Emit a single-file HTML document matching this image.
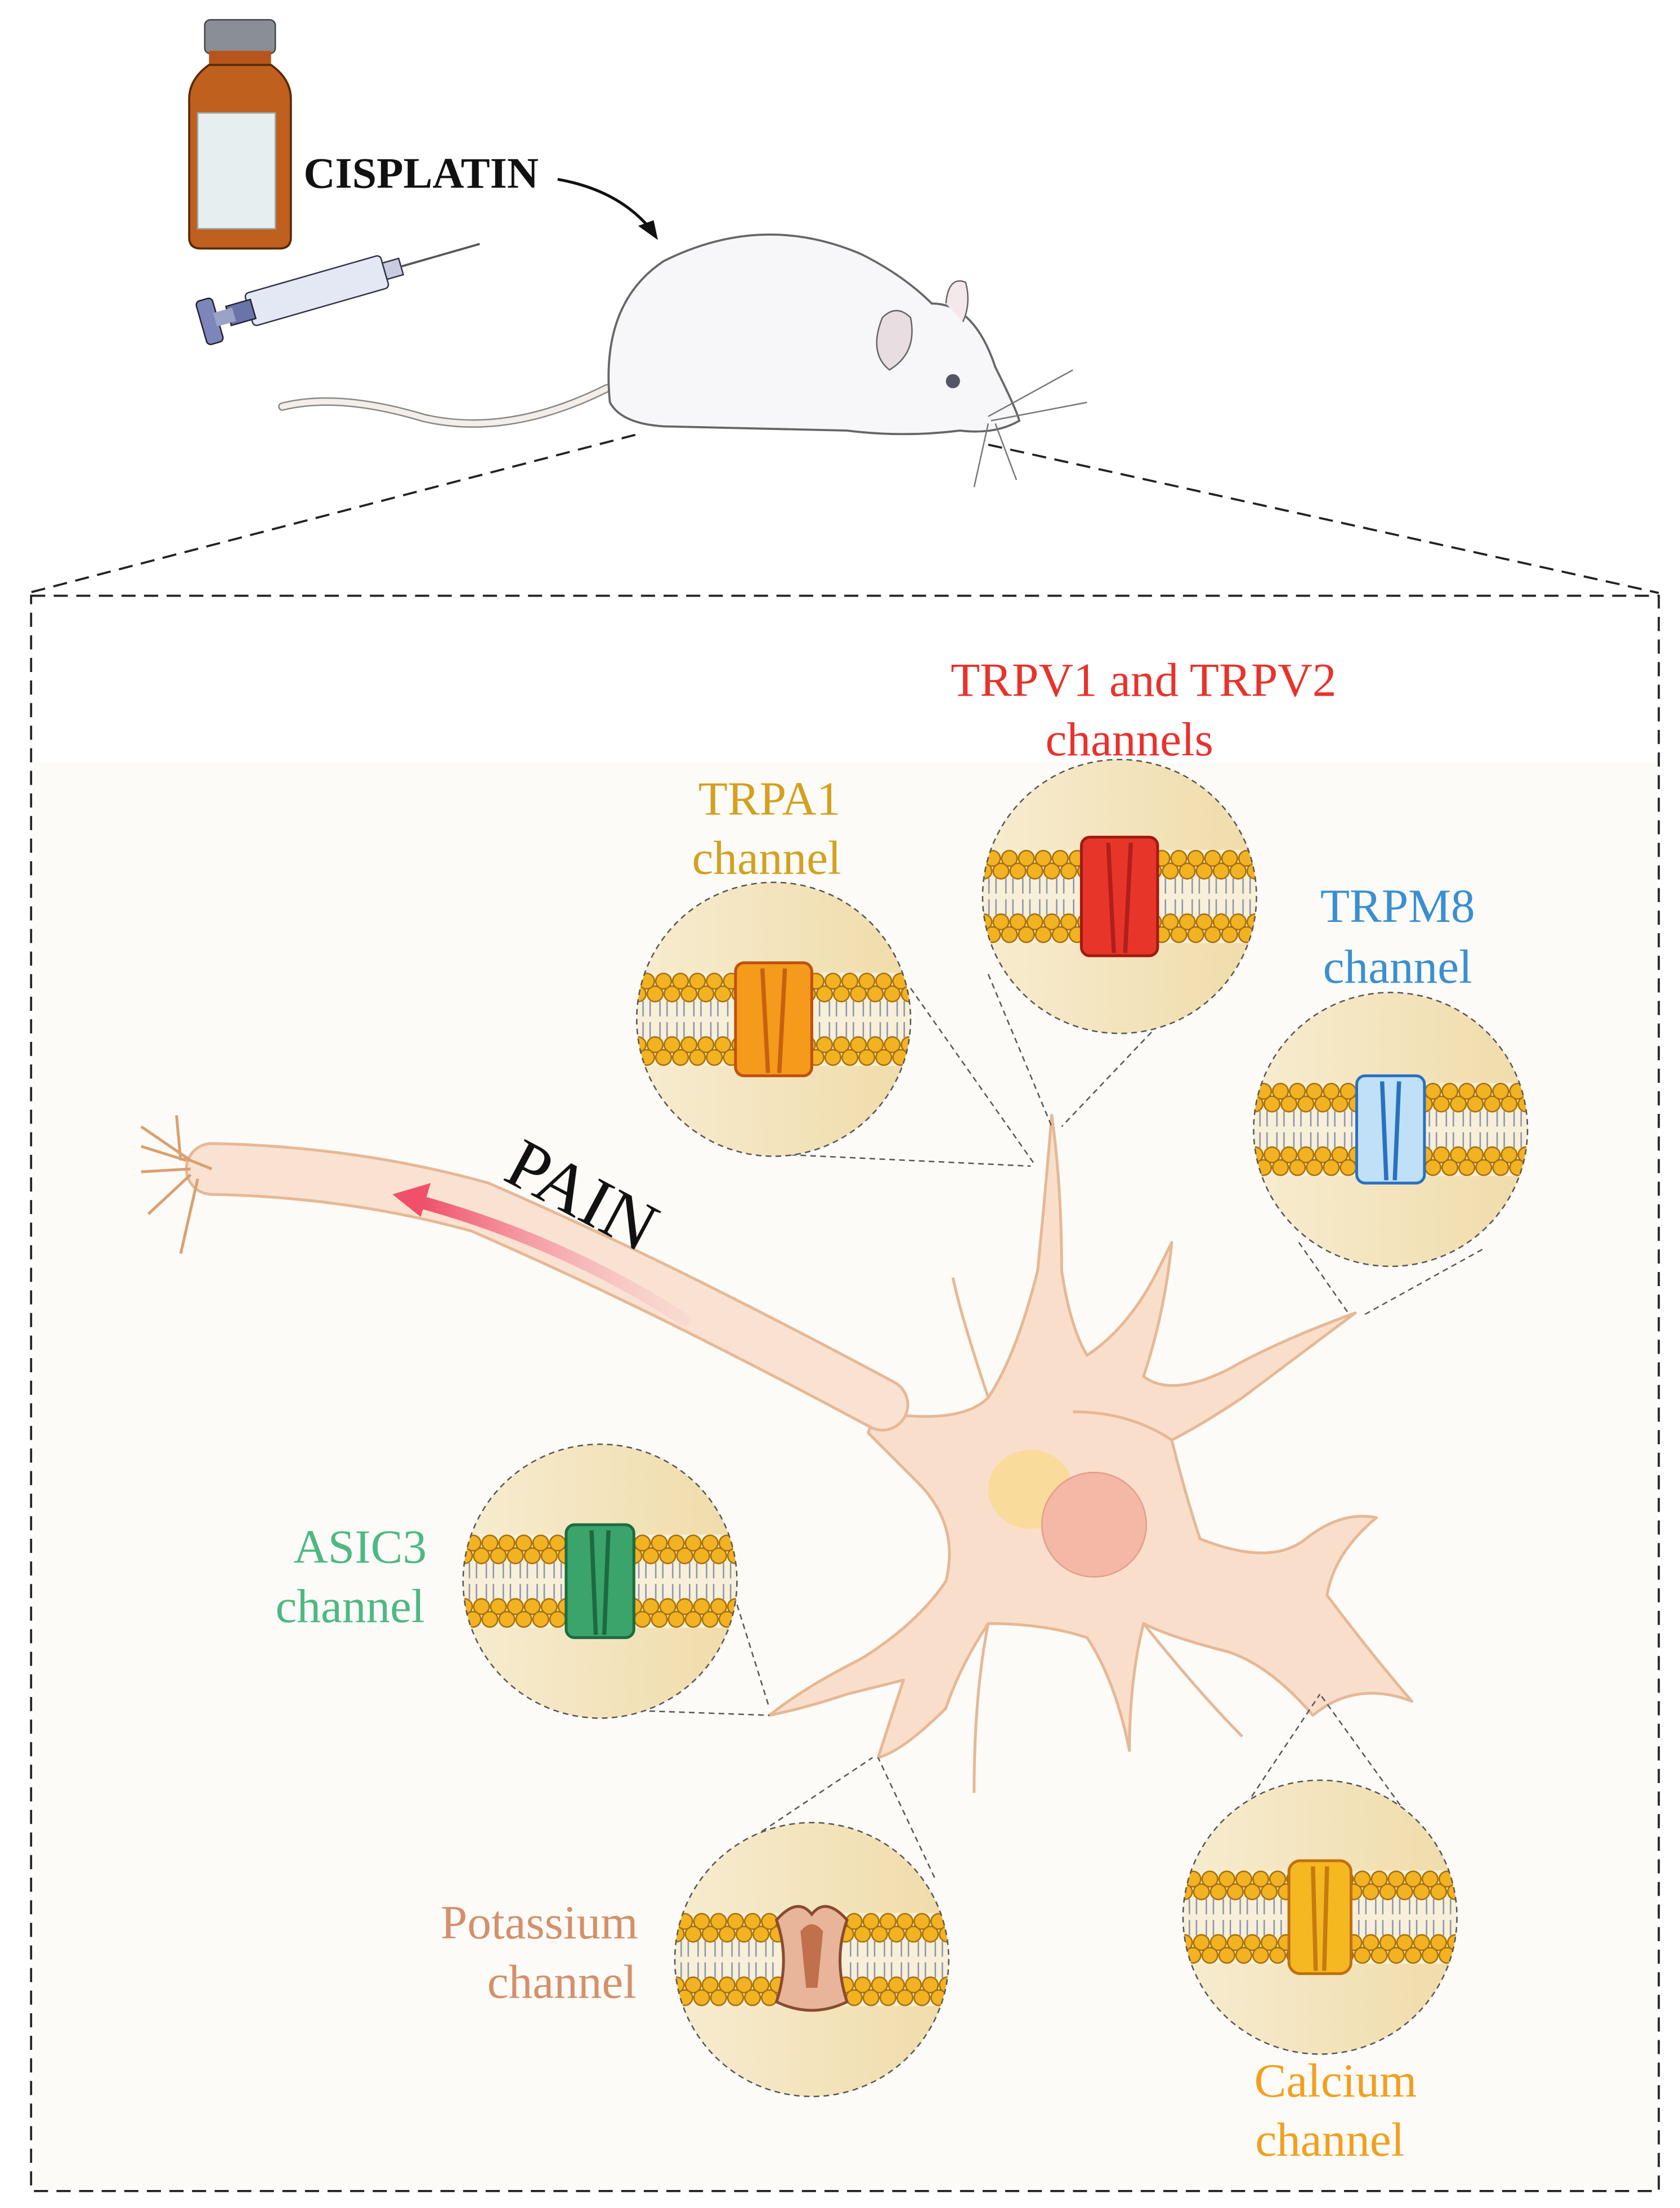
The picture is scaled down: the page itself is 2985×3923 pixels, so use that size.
<!DOCTYPE html>
<html><head><meta charset="utf-8"><style>
html,body{margin:0;padding:0;background:#fff}
svg{display:block}
</style></head><body>
<svg width="2985" height="3923" viewBox="0 0 1190 1564" xmlns="http://www.w3.org/2000/svg">
<defs>
<pattern id="memp" x="0" y="-33" width="12" height="66" patternUnits="userSpaceOnUse">
<line x1="3.5" y1="20" x2="3.5" y2="31" stroke="#8a93a8" stroke-width="1"/>
<line x1="8.5" y1="20" x2="8.5" y2="31" stroke="#8a93a8" stroke-width="1"/>
<line x1="3.5" y1="35" x2="3.5" y2="46" stroke="#8a93a8" stroke-width="1"/>
<line x1="8.5" y1="35" x2="8.5" y2="46" stroke="#8a93a8" stroke-width="1"/>
<circle cx="0" cy="15" r="5.5" fill="#f2b222" stroke="#a46e0c" stroke-width="1"/>
<circle cx="12" cy="15" r="5.5" fill="#f2b222" stroke="#a46e0c" stroke-width="1"/>
<circle cx="6" cy="6" r="5.5" fill="#f2b222" stroke="#a46e0c" stroke-width="1"/>
<circle cx="0" cy="51" r="5.5" fill="#f2b222" stroke="#a46e0c" stroke-width="1"/>
<circle cx="12" cy="51" r="5.5" fill="#f2b222" stroke="#a46e0c" stroke-width="1"/>
<circle cx="6" cy="60" r="5.5" fill="#f2b222" stroke="#a46e0c" stroke-width="1"/>
</pattern>
<linearGradient id="cg" x1="0" y1="0" x2="1" y2="0">
<stop offset="0" stop-color="#f7ecd0"/><stop offset="1" stop-color="#f0dcaa"/>
</linearGradient>
<linearGradient id="pg" x1="0" y1="0" x2="1" y2="0">
<stop offset="0" stop-color="#f0506a"/><stop offset="1" stop-color="#f8c8cc" stop-opacity="0.3"/>
</linearGradient>
<clipPath id="cc"><circle cx="0" cy="0" r="97"/></clipPath>
<g id="circ">
<circle cx="0" cy="0" r="97" fill="url(#cg)"/>
<g clip-path="url(#cc)">
<rect x="-110" y="-33" width="220" height="66" fill="#f8efd8"/>
<rect x="-108" y="-33" width="216" height="66" fill="url(#memp)"/>
</g>
<circle cx="0" cy="0" r="97" fill="none" stroke="#555" stroke-width="1" stroke-dasharray="4,3"/>
</g>
</defs>
<rect width="1190" height="1564" fill="#fff"/>
<rect x="23" y="540" width="1151" height="1011" fill="#fcfbf7"/>
<rect x="22" y="422" width="1153" height="1130" fill="none" stroke="#222" stroke-width="1.5" stroke-dasharray="10,6"/>
<line x1="450" y1="308" x2="20" y2="420" stroke="#222" stroke-width="1.5" stroke-dasharray="10,6"/>
<line x1="700" y1="315" x2="1175" y2="420" stroke="#222" stroke-width="1.5" stroke-dasharray="10,6"/>

<!-- vial -->
<rect x="145" y="14" width="50" height="24" rx="4" fill="#8a8f96" stroke="#444"/>
<rect x="148" y="36" width="44" height="10" fill="#b7561c"/>
<path d="M148 46 Q134 56 134 70 L134 168 Q134 176 142 176 L198 176 Q206 176 206 168 L206 70 Q206 56 192 46 Z" fill="#c0601e" stroke="#5a2a0a" stroke-width="1.5"/>
<rect x="140" y="80" width="55" height="82" fill="#e6eef0" stroke="#9aa" />
<!-- syringe -->
<g transform="rotate(-16 210 210)">
<rect x="175" y="198" width="100" height="24" rx="3" fill="#e4e8f4" stroke="#334" />
<rect x="160" y="203" width="18" height="14" fill="#6b74a8" stroke="#223"/>
<rect x="140" y="194" width="12" height="32" rx="3" fill="#7d86b8" stroke="#223"/>
<rect x="150" y="205" width="14" height="10" fill="#9aa2c8"/>
<rect x="275" y="204" width="12" height="12" fill="#c8cce0" stroke="#334"/>
<line x1="287" y1="210" x2="345" y2="210" stroke="#555" stroke-width="1.5"/>
</g>
<text x="215" y="133" font-family="Liberation Serif, serif" font-weight="bold" font-size="31" fill="#111">CISPLATIN</text>
<path d="M395 127 Q440 135 463 165" fill="none" stroke="#111" stroke-width="2"/>
<path d="M466 170 L452 160 L463 156 Z" fill="#111"/>

<!-- mouse -->
<path d="M200 288 Q240 278 300 296 Q360 310 430 275" fill="none" stroke="#888" stroke-width="6" stroke-linecap="round"/>
<path d="M200 288 Q240 278 300 296 Q360 310 430 275" fill="none" stroke="#f4eee8" stroke-width="4" stroke-linecap="round"/>
<path d="M432 285 Q425 215 470 185 Q540 150 610 180 Q640 195 660 215 Q690 215 705 260 Q720 290 722 298 Q705 308 680 305 Q640 310 600 305 L470 302 Q440 300 432 285 Z" fill="#f7f7fa" stroke="#666" stroke-width="1.5"/>
<path d="M625 225 Q615 250 630 262 Q650 250 645 225 Q635 215 625 225 Z" fill="#e8dde0" stroke="#666"/>
<path d="M670 215 Q672 195 684 200 Q688 215 682 228" fill="#f4e8ea" stroke="#666"/>
<circle cx="675" cy="270" r="5" fill="#556"/>
<path d="M700 295 L760 262 M702 298 L770 285 M700 300 L690 345 M705 300 L720 340" stroke="#777" stroke-width="1" fill="none"/>

<!-- neuron -->
<g fill="#f9dfcb" stroke="#e6b896" stroke-width="2" stroke-linejoin="round">
<path d="M620 1000 Q680 1010 700 990 Q720 960 735 900 Q740 850 745 790 Q752 840 752 900 Q758 940 770 960 Q800 940 820 900 Q830 880 830 880 Q825 930 810 975 Q830 990 870 970 Q905 950 960 930 Q920 960 880 990 Q850 1010 830 1020 Q840 1060 850 1090 Q900 1110 925 1090 Q950 1070 975 1075 Q945 1100 940 1130 Q970 1170 1000 1205 Q960 1190 930 1215 Q900 1180 870 1170 Q830 1160 810 1150 Q800 1190 800 1240 Q790 1190 770 1160 Q740 1150 700 1150 Q680 1180 670 1210 Q640 1240 622 1245 Q630 1220 640 1190 Q620 1195 600 1200 Q570 1210 545 1215 Q570 1195 610 1175 Q650 1150 670 1120 Q680 1080 650 1050 Q630 1030 615 1015 Z"/>
<path d="M700 990 Q680 930 675 905 M760 1000 Q800 1000 830 1020 M700 1150 Q690 1200 690 1270 M810 1150 Q850 1200 880 1230" fill="none"/>
</g>
<ellipse cx="730" cy="1055" rx="30" ry="28" fill="#f9d98e" opacity="0.8"/>
<circle cx="775" cy="1080" r="37" fill="#f3b8a6" stroke="#e89c8a"/>
<!-- axon -->
<path d="M625 995 Q560 960 490 925 Q420 890 340 855 Q250 830 150 828" fill="none" stroke="#e6b896" stroke-width="38" stroke-linecap="round"/>
<path d="M625 995 Q560 960 490 925 Q420 890 340 855 Q250 830 150 828" fill="none" stroke="#f9e2d2" stroke-width="34" stroke-linecap="round" stroke-dasharray="44,3"/>
<path d="M150 828 L130 820 M135 822 L100 798 M132 822 L100 812 M135 828 L100 830 M135 832 L105 860 M128 822 L125 790 M140 835 L128 888" fill="none" stroke="#d9a070" stroke-width="2"/>
<path d="M485 935 Q400 880 300 852" fill="none" stroke="url(#pg)" stroke-width="9" stroke-linecap="round"/>
<path d="M278 846 L305 838 L298 862 Z" fill="#f0506a"/>
<text x="0" y="0" transform="translate(355 835) rotate(28)" font-family="Liberation Serif, serif" font-size="50" fill="#111">PAIN</text>

<g stroke="#555" stroke-width="1" stroke-dasharray="4,3" fill="none">
<line x1="645" y1="700" x2="733" y2="825"/><line x1="560" y1="818" x2="730" y2="826"/>
<line x1="700" y1="690" x2="745" y2="798"/><line x1="888" y1="655" x2="752" y2="798"/>
<line x1="920" y1="880" x2="955" y2="930"/><line x1="1050" y1="885" x2="965" y2="932"/>
<line x1="520" y1="1130" x2="545" y2="1210"/><line x1="460" y1="1212" x2="545" y2="1215"/>
<line x1="528" y1="1305" x2="618" y2="1245"/><line x1="662" y1="1330" x2="622" y2="1245"/>
<line x1="875" y1="1290" x2="935" y2="1200"/><line x1="1000" y1="1290" x2="935" y2="1200"/>
</g>

<g transform="translate(548 722)"><use href="#circ"/>
<rect x="-27" y="-40" width="54" height="80" rx="6" fill="#f59a1a" stroke="#c05010" stroke-width="2"/>
<path d="M-8 -36 L-4 38 M8 -36 L4 38" stroke="#c86012" stroke-width="3"/></g>
<g transform="translate(793 635)"><use href="#circ"/>
<rect x="-27" y="-42" width="54" height="84" rx="6" fill="#e8352a" stroke="#a01a10" stroke-width="2"/>
<path d="M-8 -38 L-4 40 M8 -38 L4 40" stroke="#b02018" stroke-width="3"/></g>
<g transform="translate(985 800)"><use href="#circ"/>
<rect x="-24" y="-38" width="48" height="76" rx="6" fill="#bfe0f6" stroke="#2a70c0" stroke-width="2"/>
<path d="M-6 -34 L-3 36 M6 -34 L3 36" stroke="#2a70c0" stroke-width="3"/></g>
<g transform="translate(425 1120)"><use href="#circ"/>
<rect x="-24" y="-40" width="48" height="80" rx="6" fill="#3aa46a" stroke="#1e6a40" stroke-width="2"/>
<path d="M-6 -36 L-3 38 M6 -36 L3 38" stroke="#1e6a40" stroke-width="3"/></g>
<g transform="translate(575 1388)"><use href="#circ"/>
<path d="M-25 -28 Q-10 -45 0 -32 Q10 -45 25 -28 Q15 0 25 30 Q0 42 -25 30 Q-15 0 -25 -28 Z" fill="#e8b49a" stroke="#8a4a30" stroke-width="2"/>
<path d="M-8 -20 Q0 -30 8 -20 L4 20 L-4 20 Z" fill="#c0704a"/></g>
<g transform="translate(935 1358)"><use href="#circ"/>
<rect x="-22" y="-40" width="44" height="80" rx="8" fill="#f5b820" stroke="#c07010" stroke-width="2"/>
<path d="M-5 -36 L-3 38 M5 -36 L3 38" stroke="#c87a10" stroke-width="3"/></g>

<g font-family="Liberation Serif, serif" font-size="34" text-anchor="middle">
<text x="810" y="493" fill="#e8322c">TRPV1 and TRPV2</text>
<text x="800" y="535" fill="#e8322c">channels</text>
<text x="545" y="577" fill="#d4a020">TRPA1</text>
<text x="543" y="619" fill="#d4a020">channel</text>
<text x="990" y="653" fill="#3a8fd0">TRPM8</text>
<text x="990" y="696" fill="#3a8fd0">channel</text>
<text x="255" y="1107" fill="#4db884">ASIC3</text>
<text x="248" y="1149" fill="#4db884">channel</text>
<text x="382" y="1373" fill="#d4906a">Potassium</text>
<text x="398" y="1415" fill="#d4906a">channel</text>
<text x="946" y="1485" fill="#f0a020">Calcium</text>
<text x="942" y="1527" fill="#f0a020">channel</text>
</g>
</svg>
</body></html>
